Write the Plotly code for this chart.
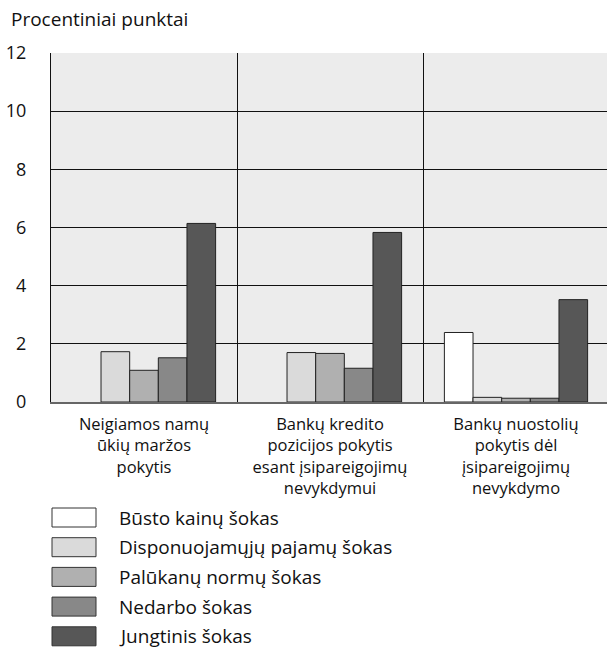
import plotly.graph_objects as go

categories = [
    "Neigiamos namų<br>ūkių maržos<br>pokytis",
    "Bankų kredito<br>pozicijos pokytis<br>esant įsipareigojimų<br>nevykdymui",
    "Bankų nuostolių<br>pokytis dėl<br>įsipareigojimų<br>nevykdymo",
]
series_names = [
    "Būsto kainų šokas",
    "Disponuojamųjų pajamų šokas",
    "Palūkanų normų šokas",
    "Nedarbo šokas",
    "Jungtinis šokas",
]
busto = [None, None, 2.39]
disponuojamuju = [1.73, 1.70, 0.16]
palukanu = [1.09, 1.67, 0.13]
nedarbo = [1.52, 1.16, 0.13]
jungtinis = [6.14, 5.83, 3.52]
series_values = [busto, disponuojamuju, palukanu, nedarbo, jungtinis]
colors = ["#ffffff", "#dadada", "#b0b0b0", "#888888", "#575757"]
y_ticks = [0, 2, 4, 6, 8, 10, 12]
y_title = "Procentiniai punktai"

FONT = "Open Sans"
W, H = 607, 650
ML, MT, MB = 51, 53, 248

fig = go.Figure()
for name, vals, col in zip(series_names, series_values, colors):
    fig.add_trace(go.Bar(
        x=categories, y=vals, name=name,
        marker=dict(color=col, line=dict(color="#222222", width=1)),
        showlegend=False,
    ))

plot_w = W - ML
group_px = 186.0
x_end = -0.5 + plot_w / group_px

fig.update_layout(
    width=W, height=H,
    margin=dict(l=ML, r=0, t=MT, b=MB, pad=0),
    paper_bgcolor="white",
    plot_bgcolor="#ececec",
    barmode="group",
    bargap=0.23,
    bargroupgap=0,
    font=dict(family=FONT, color="#111111"),
    xaxis=dict(
        type="category",
        range=[-0.5, x_end],
        tickson="boundaries",
        showgrid=True, gridcolor="#111111", gridwidth=1,
        ticks="", ticklen=0,
        ticklabelstandoff=6,
        tickfont=dict(size=16.5, family=FONT, color="#111111"),
        showline=True, linecolor="#666666", linewidth=2,
        fixedrange=True,
    ),
    yaxis=dict(
        range=[0, 12],
        tickvals=y_ticks,
        ticktext=[str(v) for v in y_ticks],
        showgrid=True, gridcolor="#111111", gridwidth=1,
        zeroline=False,
        showline=True, linecolor="#111111", linewidth=1,
        ticks="", ticklabelstandoff=20,
        tickfont=dict(size=18, family=FONT, color="#111111"),
        fixedrange=True,
    ),
    showlegend=False,
)

plot_h = H - MT - MB
def px_to_paper_x(px):
    return (px - ML) / plot_w
def px_to_paper_y(py):
    return (H - MB - py) / plot_h

# title
fig.add_annotation(
    text=y_title, xref="paper", yref="paper",
    x=px_to_paper_x(9), y=px_to_paper_y(19),
    xanchor="left", yanchor="middle", showarrow=False,
    font=dict(size=19, family=FONT, color="#111111"),
)

# manual legend with large boxes
box_top0 = 508
row_step = 29.7
for i, (name, col) in enumerate(zip(series_names, colors)):
    top = box_top0 + i * row_step
    bot = top + 19
    fig.add_shape(
        type="rect", xref="paper", yref="paper",
        x0=px_to_paper_x(52), x1=px_to_paper_x(96),
        y0=px_to_paper_y(bot), y1=px_to_paper_y(top),
        fillcolor=col, line=dict(color="#333333", width=1),
    )
    fig.add_annotation(
        text=name, xref="paper", yref="paper",
        x=px_to_paper_x(117), y=px_to_paper_y(top + 9.5),
        xanchor="left", yanchor="middle", showarrow=False,
        font=dict(size=19, family=FONT, color="#111111"),
    )

fig.write_html("out.html", config={"displayModeBar": False})
